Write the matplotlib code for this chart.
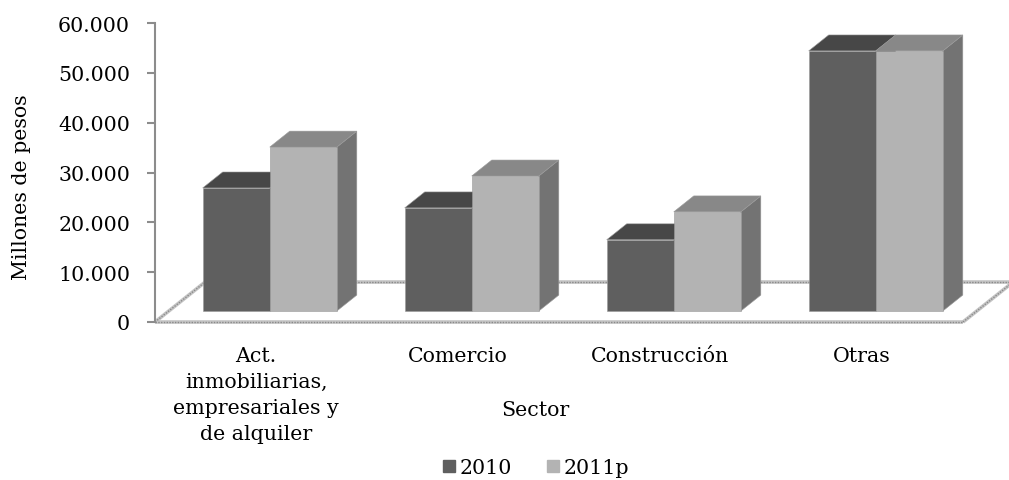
import matplotlib.pyplot as plt
from matplotlib.patches import Polygon
from matplotlib.lines import Line2D

sectores = ['Act.\ninmobiliarias,\nempresariales y\nde alquiler', 'Comercio', 'Construcción', 'Otras']
series = ['2010', '2011p']
v2010 = [24700, 20700, 14300, 52200]
v2011 = [32900, 27100, 19900, 52200]
ticks_y = [0, 10000, 20000, 30000, 40000, 50000, 60000]
ticks_lbl = ['0', '10.000', '20.000', '30.000', '40.000', '50.000', '60.000']

# colores: frente, tapa, lado
col_2010 = ('#5f5f5f', '#474747', '#525252')
col_2011 = ('#b3b3b3', '#888888', '#737373')

plt.rcParams['font.family'] = ['DejaVu Serif']
fs = 14.8

fig = plt.figure(figsize=(10.09, 4.81), dpi=100)
W, H = 1009.0, 481.0
ax = fig.add_axes([155 / W, (H - 323) / H, (1009 - 155) / W, (323 - 24) / H])
ax.set_xlim(-0.5, -0.5 + (1009 - 155) / 202.0)
ax.set_ylim(0, 60000)

# profundidad del "piso" (efecto 3D)
Dx, Dy = 0.2475, 8000
f_front, f_back = 0.275, 0.675
w = 0.332

# piso
def floor_line(xs, ys):
    ax.plot(xs, ys, color='#c4c4c4', lw=2.6, zorder=1, clip_on=False, solid_capstyle='butt')
    ax.plot(xs, ys, color='#8a8a8a', lw=1.0, ls=(0, (1, 1)), zorder=1.1, clip_on=False)

floor_line([-0.5, 3.5], [0, 0])
floor_line([-0.5, -0.5 + Dx], [0, Dy])
floor_line([-0.5 + Dx, 3.5 + Dx], [Dy, Dy])
floor_line([3.5, 3.5 + Dx], [0, Dy])

# barras
sx, sy = f_front * Dx, f_front * Dy
bx, by = (f_back - f_front) * Dx, (f_back - f_front) * Dy
z = 3
for i in range(len(sectores)):
    for s, (vals, cols) in enumerate([(v2010, col_2010), (v2011, col_2011)]):
        left = i - w + s * w + sx
        val = vals[i]
        ax.bar(left, val, width=w, bottom=sy, align='edge', color=cols[0],
               edgecolor='#9a9a9a', linewidth=0.4, zorder=z, clip_on=False)
        top = sy + val
        ax.add_patch(Polygon([(left, top), (left + w, top), (left + w + bx, top + by), (left + bx, top + by)],
                             closed=True, facecolor=cols[1], edgecolor='#9a9a9a', lw=0.4, zorder=z, clip_on=False))
        ax.add_patch(Polygon([(left + w, sy), (left + w + bx, sy + by), (left + w + bx, top + by), (left + w, top)],
                             closed=True, facecolor=cols[2], edgecolor='#9a9a9a', lw=0.4, zorder=z - 0.5, clip_on=False))
        z += 1

# ejes
for sp in ['top', 'right', 'bottom']:
    ax.spines[sp].set_visible(False)
ax.spines['left'].set_color('#8c8c8c')
ax.spines['left'].set_linewidth(1.5)
ax.set_yticks(ticks_y)
ax.set_yticklabels(ticks_lbl)
ax.tick_params(axis='y', length=6, width=1.5, color='#8c8c8c', pad=12, labelsize=fs)
ax.set_xticks(range(len(sectores)))
ax.set_xticklabels(sectores, linespacing=1.47)
ax.tick_params(axis='x', length=0, pad=17, labelsize=fs)

fig.text(535 / W, 1 - 410 / H, 'Sector', ha='center', va='center', fontsize=fs)
fig.text(22 / W, 1 - 187 / H, 'Millones de pesos', ha='center', va='center', rotation=90, fontsize=fs)

handles = [Line2D([], [], marker='s', ls='none', color=col_2010[0], markersize=9),
           Line2D([], [], marker='s', ls='none', color=col_2011[0], markersize=9)]
fig.legend(handles, series, loc='center', bbox_to_anchor=(535 / W, 1 - 469 / H), ncol=2,
           frameon=False, fontsize=fs, handletextpad=0.1, columnspacing=1.6, handlelength=0.8)

fig.savefig('out.png', dpi=100)
